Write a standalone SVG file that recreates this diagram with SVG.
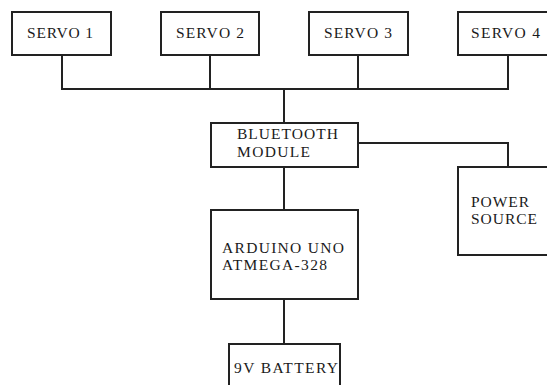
<svg xmlns="http://www.w3.org/2000/svg" width="547" height="385" viewBox="0 0 547 385">
<style>
.box{fill:#fff;stroke:#222;stroke-width:2}
.ln{fill:none;stroke:#222;stroke-width:2}
.t{font-family:'Liberation Serif','Times New Roman',serif;font-size:15.5px;fill:#1a1a1a}
</style>
<rect width="547" height="385" fill="#fff"/>
<g id="connectors">
<path class="ln" d="M62 55V89H508V55M210 55V89M358 55V89M284 89V123"/>
<path class="ln" d="M358 143H508V167"/>
<path class="ln" d="M284 167V210"/>
<path class="ln" d="M284 299V344"/>
</g>
<g id="servo1"><rect class="box" x="12" y="12" width="99" height="43"/><text class="t" x="27" y="38" textLength="66">SERVO 1</text></g>
<g id="servo2"><rect class="box" x="161" y="12" width="98" height="43"/><text class="t" x="176" y="38" textLength="68">SERVO 2</text></g>
<g id="servo3"><rect class="box" x="309" y="12" width="99" height="43"/><text class="t" x="324" y="38" textLength="68">SERVO 3</text></g>
<g id="servo4"><rect class="box" x="458" y="12" width="100" height="43"/><text class="t" x="471" y="38" textLength="69">SERVO 4</text></g>
<g id="bluetooth"><rect class="box" x="211" y="123" width="147" height="44"/><text class="t" x="237" y="139" textLength="101">BLUETOOTH</text><text class="t" x="237" y="157" textLength="73">MODULE</text></g>
<g id="power"><rect class="box" x="458" y="167" width="100" height="88"/><text class="t" x="471" y="207" textLength="58">POWER</text><text class="t" x="471" y="224" textLength="66">SOURCE</text></g>
<g id="arduino"><rect class="box" x="211" y="210" width="147" height="89"/><text class="t" x="222" y="253" textLength="122">ARDUINO UNO</text><text class="t" x="222" y="270" textLength="105">ATMEGA-328</text></g>
<g id="battery"><rect class="box" x="229" y="344" width="111" height="50"/><text class="t" x="234" y="373" textLength="104">9V BATTERY</text></g>
</svg>
